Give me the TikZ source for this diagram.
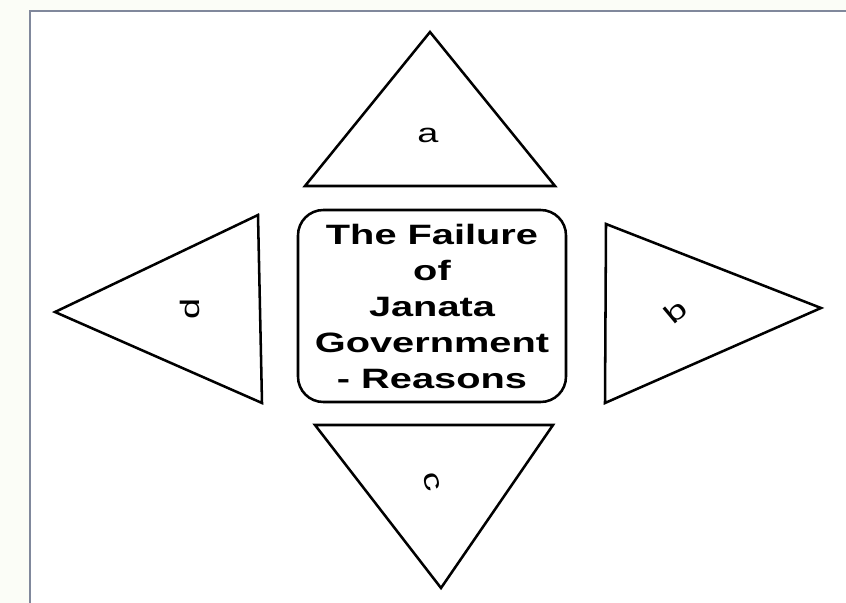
\documentclass[tikz,border=0pt]{standalone}
\usepackage{fontspec}
\setmainfont{Liberation Sans}
\newfontfamily\widesans[FakeStretch=1.42]{Liberation Sans}
\usetikzlibrary{math}
\definecolor{framegray}{RGB}{128,136,156}
\definecolor{paper}{RGB}{251,253,247}

\tikzset{
  tri/.style={draw=black, line width=1.9, line join=miter, fill=white},
  lbl/.style={font=\widesans\fontsize{20}{24}\selectfont, inner sep=0},
  title/.style={draw=black, line width=1.9, rounded corners=19pt, align=center,
    minimum width=201pt, minimum height=144pt, inner sep=0,
    font=\widesans\bfseries\fontsize{21}{27}\selectfont}
}

\begin{document}
\begin{tikzpicture}[x=0.75pt,y=-0.75pt]
\tikzmath{
\cx=432;
\cy=306;
}
\useasboundingbox (0,0) rectangle (846,603);
% page and frame
\fill[paper] (0,0) rectangle (846,603);
\fill[white] (30,11) rectangle (846,603);
\draw[framegray, line width=1.5] (30,603) -- (30,11) -- (846,11);

% four triangles round the box
\draw[tri] (430,32) -- (555,186) -- (305,186) -- cycle;
\draw[tri] (606,224) -- (821,308) -- (605,403) -- cycle;
\draw[tri] (315,425) -- (553,425) -- (441,588) -- cycle;
\draw[tri] (258,215) -- (262,403) -- (55,312) -- cycle;

\node[lbl] (a) at (428,135) {a};
\node[lbl, rotate=40] (b) at (675,311) {b};
\node[lbl, rotate=-75] (c) at (432,482) {c};
\node[lbl, rotate=90] (d) at (190,309) {d};

\node[title] (reasons) at (\cx,\cy) {The Failure\\of\\Janata\\Government\\- Reasons};
\end{tikzpicture}
\end{document}
